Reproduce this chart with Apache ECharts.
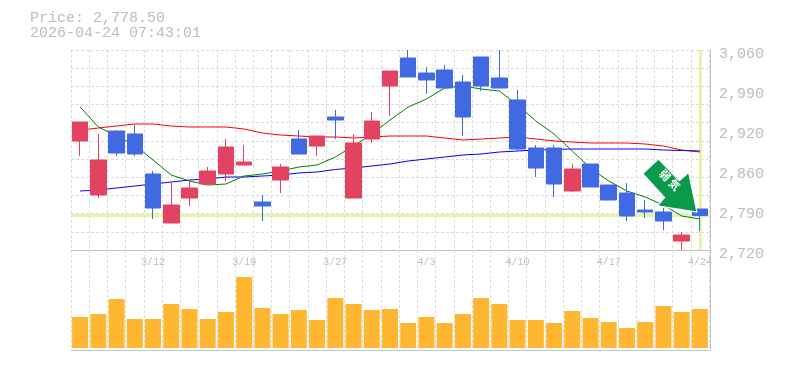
<!DOCTYPE html>
<html><head><meta charset="utf-8">
<style>html,body{margin:0;padding:0;background:#fff}#c{width:785px;height:370px}</style>
<script src="https://cdn.jsdelivr.net/npm/echarts@6/dist/echarts.min.js"></script>
</head><body><div id="c"></div>
<script>
const dates=['3/6','3/9','3/10','3/11','3/12','3/13','3/16','3/17','3/18','3/19','3/23','3/24','3/25','3/26','3/27','3/30','3/31','4/1','4/2','4/3','4/6','4/7','4/8','4/9','4/10','4/13','4/14','4/15','4/16','4/17','4/20','4/21','4/22','4/23','4/24'];
const opens=[2905.3,2813.5,2922.3,2917.2,2849.2,2765.9,2808.4,2832.2,2849.2,2864.5,2801.6,2839,2908.7,2896.8,2946.1,2808.4,2908.7,2998.8,3046.4,3020.9,3026,3005.6,3048.1,3012.4,2975,2893.4,2893.4,2820.3,2866.2,2830.5,2816.9,2788,2784.6,2735.3,2789.7];
const closes=[2937.6,2873,2884.9,2883.2,2791.4,2796.5,2825.4,2854.3,2895.1,2869.6,2794.8,2861.1,2883.2,2913.8,2941,2901.9,2939.3,3024.3,3014.1,3009,2995.4,2946.1,2998.8,2995.4,2891.7,2859.4,2832.2,2857.7,2827.1,2805,2777.8,2784.6,2769.3,2745.5,2778.5];
const lows=[2879.8,2808.4,2879.8,2879.8,2772.7,2765.9,2794.8,2832.2,2837.3,2864.5,2769.3,2816.9,2883.2,2879.8,2908.7,2808.4,2901.9,2947.8,3014.1,2985.2,2995.4,2913.8,2990.3,2995.4,2888.3,2844.1,2810.1,2818.6,2827.1,2805,2769.3,2774.4,2754,2720,2752.3];
const highs=[2937.6,2917.2,2924,2932.5,2854.3,2835.6,2837.3,2861.1,2908.7,2898.5,2813.5,2866.2,2924,2913.8,2958,2917.2,2954.6,3024.3,3060,3031.1,3034.5,3017.5,3048.1,3060,2992,2898.5,2898.5,2866.2,2866.2,2830.5,2833.9,2805,2791.4,2750.6,2789.7];
const maShort=[2963.1,2929.1,2913.8,2898.5,2873,2847.5,2837.3,2830.5,2832.2,2845.8,2849.2,2854.3,2861.1,2864.5,2878.1,2896.8,2917.2,2941,2963.1,2976.7,2995.4,2998.8,2993.7,2990.3,2966.5,2939.3,2917.2,2888.3,2859.4,2837.3,2820.3,2810.1,2796.5,2777.8,2772.7];
const maMid=[2924,2927.4,2930.8,2934.2,2934.2,2930.8,2929.1,2929.1,2929.1,2925.7,2918.9,2915.5,2913.8,2912.1,2912.1,2910.4,2912.1,2913.8,2913.8,2913.8,2910.4,2907,2908.7,2910.4,2912.1,2908.7,2905.3,2903.6,2901.9,2901.9,2901.9,2900.2,2896.8,2890,2886.6];
const maLong=[2820.3,2822,2825.4,2828.8,2832.2,2835.6,2839,2840.7,2844.1,2844.1,2845.8,2847.5,2850.9,2852.6,2856.9,2859.4,2862.8,2866.2,2871.3,2874.7,2878.1,2881.5,2883.2,2886.6,2888.3,2890,2890.9,2891.7,2891.7,2891.7,2891.7,2891.7,2890,2889.2,2888.3];
const volumes=[31,34,49,29,29,44,39,29,36,71,40,34,38,28,50,44,38,39,25,31,25,34,50,44,28,28,25,37,30,26,20,26,42,36,39];
const priceTicks=['2,720','2,790','2,860','2,920','2,990','3,060'];
const lastPrice=2778.5;
const headerLines=['Price: 2,778.50','2026-04-24 07:43:01'];

const gridC='#dddddd', axisC='#c4c4c4', textC='#bdbdbd';
const mono='"Liberation Mono","Courier New",monospace';
const candles=dates.map((d,i)=>[opens[i],closes[i],lows[i],highs[i]]);
const arrowPath='path://M15 0L35 21L44 13L52 51L14 45L21 37L0 14Z';
const chart=echarts.init(document.getElementById('c'),null,{renderer:'canvas'});
chart.setOption({
  animation:false,
  backgroundColor:'#fff',
  title:{left:30,top:11,padding:0,text:headerLines.join('\n'),
    textStyle:{fontFamily:mono,fontSize:15,fontWeight:'normal',color:textC,lineHeight:15}},
  grid:[
    {left:71,width:638,top:50,height:200,containLabel:false},
    {left:71,width:638,top:250,height:100,containLabel:false}
  ],
  xAxis:[
    {type:'category',gridIndex:0,data:dates,boundaryGap:true,
     axisLine:{show:true,lineStyle:{color:axisC,width:1}},axisTick:{show:false},
     axisLabel:{interval:(i)=>i%5===4,hideOverlap:false,margin:7,fontFamily:mono,fontSize:10,color:textC},
     splitLine:{show:true,interval:0,lineStyle:{color:gridC,type:[3,2],width:1}}},
    {type:'category',gridIndex:1,data:dates,boundaryGap:true,
     axisLine:{show:true,onZero:false,lineStyle:{color:axisC,width:1}},axisTick:{show:false},axisLabel:{show:false},
     splitLine:{show:true,interval:0,lineStyle:{color:gridC,type:[3,2],width:1}}}
  ],
  yAxis:[
    {type:'value',gridIndex:0,position:'right',offset:1,min:2720,max:3060,interval:68,
     axisLine:{show:true,lineStyle:{color:axisC,width:1}},axisTick:{show:false},splitLine:{show:false},
     axisLabel:{margin:9,formatter:(v)=>'{p|'+priceTicks[Math.round((v-2720)/68)]+'}',
       rich:{p:{fontFamily:mono,fontSize:15,color:textC,padding:[8,0,0,0]}}}},
    {type:'value',gridIndex:0,position:'left',min:0,max:11,interval:1,
     axisLine:{show:false},axisTick:{show:false},axisLabel:{show:false},
     splitLine:{show:true,lineStyle:{color:gridC,type:[3,2],width:1}}},
    {type:'value',gridIndex:1,position:'right',offset:1,min:-2,max:98,
     axisLine:{show:true,lineStyle:{color:axisC,width:1}},axisTick:{show:false},axisLabel:{show:false},splitLine:{show:false}}
  ],
  series:[
    {type:'line',name:'cross',xAxisIndex:0,yAxisIndex:0,data:[],z:1,silent:true,
     markLine:{z:1,silent:true,symbol:'none',animation:false,label:{show:false},
       lineStyle:{color:'#e5f5a8',type:'solid',width:3},
       data:[{yAxis:lastPrice},{xAxis:dates.length-1}]}},
    {type:'line',name:'ma1',xAxisIndex:0,yAxisIndex:0,data:maMid,z:2,showSymbol:false,lineStyle:{color:'#ff0000',width:1}},
    {type:'line',name:'ma2',xAxisIndex:0,yAxisIndex:0,data:maLong,z:2,showSymbol:false,lineStyle:{color:'#0000ff',width:1}},
    {type:'line',name:'ma3',xAxisIndex:0,yAxisIndex:0,data:maShort,z:2,showSymbol:false,lineStyle:{color:'#008000',width:1}},
    {type:'candlestick',xAxisIndex:0,yAxisIndex:0,data:candles,barWidth:16,z:3,
     itemStyle:{color:'#e24360',color0:'#4169e1',borderColor:'#e24360',borderColor0:'#4169e1',borderWidth:1},
     markPoint:{silent:true,animation:false,
       data:[{coord:[dates.length-1,lastPrice],symbol:arrowPath,symbolSize:[54,53],symbolKeepAspect:false,symbolOffset:[-30,-30],
         itemStyle:{color:'#0a9a4b',borderColor:'#ffffff',borderWidth:1},
         label:{show:true,position:'inside',offset:[-4,-4],formatter:'弱 気',rotate:-45,color:'#fff',fontFamily:'"Noto Sans CJK JP"',fontSize:11,fontWeight:'bold'}}]}},
    {type:'bar',xAxisIndex:1,yAxisIndex:2,data:volumes,barWidth:16,itemStyle:{color:'#ffb732'}}
  ]
});
</script></body></html>
